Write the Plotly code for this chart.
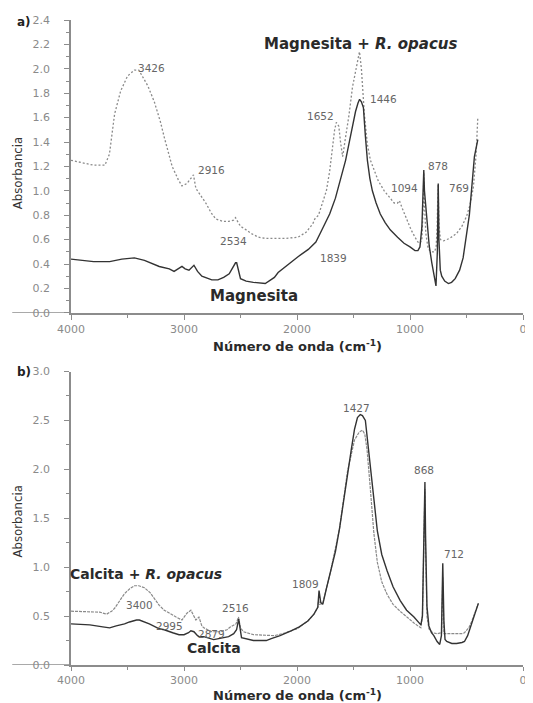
import plotly.graph_objects as go

# ---------------- Panel a: Magnesita ----------------
mag_op_wn = [4000, 3900, 3800, 3700, 3660, 3614, 3560, 3500, 3439, 3400, 3368, 3320, 3263, 3210, 3175,
             3105, 3050, 3018, 2974, 2930, 2916, 2895, 2850, 2807, 2760, 2719, 2660, 2605, 2560, 2544,
             2520, 2500, 2450, 2404, 2342, 2281, 2200, 2100, 1991, 1920, 1860, 1842, 1810, 1772, 1740,
             1711, 1680, 1667, 1652, 1630, 1615, 1596, 1570, 1540, 1509, 1480, 1460, 1447, 1430, 1404,
             1377, 1350, 1316, 1280, 1228, 1180, 1140, 1110, 1094, 1070, 1026, 990, 956, 930, 912,
             895, 882, 878, 872, 860, 840, 825, 800, 781, 768, 760, 752, 742, 730, 702,
             650, 588, 540, 500, 470, 439, 415, 400]
mag_op_abs = [1.25, 1.23, 1.21, 1.21, 1.30, 1.63, 1.82, 1.94, 1.99, 1.99, 1.94, 1.86, 1.73, 1.57, 1.44,
              1.20, 1.09, 1.04, 1.06, 1.12, 1.13, 1.02, 0.96, 0.90, 0.82, 0.77, 0.75, 0.75, 0.76, 0.78,
              0.74, 0.71, 0.68, 0.65, 0.62, 0.61, 0.61, 0.61, 0.62, 0.66, 0.73, 0.77, 0.80, 0.90, 1.00,
              1.16, 1.40, 1.50, 1.56, 1.53, 1.40, 1.28, 1.44, 1.62, 1.85, 1.97, 2.08, 2.14, 2.00, 1.63,
              1.38, 1.25, 1.16, 1.08, 1.00, 0.95, 0.90, 0.90, 0.92, 0.86, 0.76, 0.68, 0.62, 0.58, 0.57,
              0.60, 0.90, 1.15, 0.90, 0.65, 0.53, 0.51, 0.50, 0.50, 0.55, 0.70, 1.05, 0.70, 0.60, 0.59,
              0.61, 0.65, 0.71, 0.79, 0.88, 1.03, 1.30, 1.60]

mag_wn = [4000, 3900, 3800, 3658, 3550, 3439, 3350, 3219, 3130, 3088, 3050, 3018, 2990, 2956, 2912,
          2880, 2842, 2754, 2700, 2649, 2600, 2570, 2544, 2534, 2515, 2500, 2450, 2386, 2281, 2200,
          2167, 2100, 1991, 1900, 1845, 1833, 1790, 1711, 1660, 1614, 1570, 1535, 1500, 1482, 1460,
          1446, 1430, 1412, 1395, 1377, 1355, 1333, 1300, 1263, 1220, 1175, 1110, 1053, 1000, 956,
          930, 912, 895, 882, 878, 872, 851, 830, 807, 785, 770, 758, 750, 744, 732,
          719, 693, 660, 632, 600, 561, 530, 500, 475, 456, 430, 400]
mag_abs = [0.44, 0.43, 0.42, 0.42, 0.44, 0.45, 0.43, 0.38, 0.36, 0.34, 0.36, 0.38, 0.36, 0.35, 0.39,
           0.34, 0.30, 0.27, 0.27, 0.29, 0.32, 0.37, 0.41, 0.41, 0.34, 0.28, 0.26, 0.25, 0.24, 0.29,
           0.33, 0.38, 0.46, 0.52, 0.57, 0.58, 0.66, 0.81, 0.94, 1.09, 1.25, 1.41, 1.57, 1.65, 1.72,
           1.75, 1.73, 1.68, 1.45, 1.25, 1.10, 1.00, 0.90, 0.81, 0.74, 0.68, 0.62, 0.57, 0.54, 0.51,
           0.51, 0.54, 0.70, 1.00, 1.17, 1.00, 0.79, 0.55, 0.41, 0.30, 0.22, 0.50, 1.06, 0.60, 0.35,
           0.30, 0.26, 0.24, 0.25, 0.28, 0.35, 0.45, 0.62, 0.80, 1.00, 1.28, 1.42]

# ---------------- Panel b: Calcita ----------------
cal_op_wn = [4000, 3800, 3746, 3684, 3640, 3614, 3560, 3526, 3480, 3439, 3400, 3351, 3300, 3263, 3219,
             3175, 3120, 3070, 3018, 2990, 2974, 2939, 2910, 2895, 2868, 2842, 2825, 2754, 2693, 2675,
             2620, 2588, 2540, 2518, 2500, 2474, 2386, 2272, 2200, 2100, 2000, 1904, 1850, 1816, 1809,
             1800, 1772, 1702, 1623, 1553, 1491, 1450, 1420, 1400, 1380, 1351, 1320, 1289, 1250, 1202,
             1150, 1088, 1030, 965, 930, 904, 890, 875, 868, 862, 850, 833, 800, 760, 720,
             710, 705, 700, 650, 588, 540, 518, 480, 456, 420, 395]
cal_op_abs = [0.55, 0.54, 0.54, 0.52, 0.55, 0.58, 0.68, 0.73, 0.78, 0.81, 0.81, 0.79, 0.74, 0.68, 0.61,
              0.56, 0.52, 0.49, 0.46, 0.50, 0.53, 0.56, 0.50, 0.46, 0.49, 0.40, 0.38, 0.34, 0.34, 0.34,
              0.36, 0.39, 0.42, 0.49, 0.38, 0.34, 0.31, 0.30, 0.30, 0.33, 0.37, 0.45, 0.52, 0.59, 0.66,
              0.62, 0.63, 0.96, 1.40, 1.98, 2.30, 2.38, 2.40, 2.36, 2.20, 1.80, 1.35, 1.05, 0.85, 0.72,
              0.62, 0.55, 0.49, 0.43, 0.40, 0.38, 0.50, 1.30, 1.80, 1.20, 0.50, 0.37, 0.33, 0.32, 0.33,
              0.90, 0.50, 0.32, 0.32, 0.32, 0.32, 0.33, 0.38, 0.44, 0.55, 0.63]

cal_wn = [4000, 3833, 3719, 3658, 3600, 3526, 3482, 3420, 3395, 3307, 3219, 3175, 3100, 3044, 3000,
          2960, 2939, 2912, 2880, 2868, 2825, 2737, 2693, 2605, 2560, 2535, 2516, 2500, 2491, 2386,
          2272, 2228, 2150, 2053, 1980, 1904, 1850, 1816, 1805, 1790, 1772, 1740, 1702, 1660, 1623,
          1590, 1553, 1520, 1491, 1465, 1440, 1421, 1395, 1375, 1351, 1320, 1289, 1250, 1202, 1150,
          1088, 1030, 965, 930, 904, 890, 875, 868, 862, 850, 833, 810, 789, 760, 737,
          722, 710, 700, 690, 675, 630, 588, 540, 518, 490, 456, 420, 395]
cal_abs = [0.42, 0.41, 0.39, 0.38, 0.40, 0.42, 0.44, 0.46, 0.46, 0.42, 0.37, 0.36, 0.33, 0.31, 0.31,
           0.33, 0.35, 0.34, 0.30, 0.29, 0.29, 0.26, 0.27, 0.29, 0.32, 0.36, 0.47, 0.32, 0.28, 0.25,
           0.25, 0.27, 0.30, 0.35, 0.39, 0.45, 0.52, 0.59, 0.76, 0.64, 0.62, 0.78, 0.96, 1.16, 1.40,
           1.66, 1.98, 2.20, 2.41, 2.53, 2.56, 2.55, 2.50, 2.30, 2.04, 1.70, 1.37, 1.13, 0.96, 0.80,
           0.66, 0.56, 0.49, 0.44, 0.41, 0.50, 1.40, 1.87, 1.30, 0.60, 0.40, 0.33, 0.30, 0.24, 0.21,
           0.30, 1.04, 0.45, 0.26, 0.24, 0.22, 0.22, 0.23, 0.24, 0.30, 0.42, 0.54, 0.63]

# Peak labels: (text, wavenumber, absorbance)
peaks_a = [("3426", 3289, 2.01), ("2916", 2754, 1.17), ("2534", 2561, 0.59), ("1652", 1789, 1.61),
           ("1446", 1237, 1.75), ("1094", 1053, 1.02), ("878", 754, 1.20), ("769", 570, 1.02),
           ("1839", 1675, 0.45)]
peaks_b = [("1427", 1474, 2.63), ("868", 877, 1.99), ("712", 614, 1.13), ("1809", 1921, 0.83),
           ("2516", 2544, 0.58), ("3400", 3395, 0.61), ("2995", 3132, 0.40), ("2879", 2754, 0.32)]

x_ticks = [4000, 3000, 2000, 1000, 0]
ya_ticks = [0.0, 0.2, 0.4, 0.6, 0.8, 1.0, 1.2, 1.4, 1.6, 1.8, 2.0, 2.2, 2.4]
yb_ticks = [0.0, 0.5, 1.0, 1.5, 2.0, 2.5, 3.0]

DARK = "#333333"
LIGHT = "#8a8a8a"
AXC = "#8c8c8c"
TICKF = dict(family="DejaVu Sans, sans-serif", size=11, color="#8a8a8a")
BOLDF = "DejaVu Sans, sans-serif"
PEAKF = dict(family="DejaVu Sans, sans-serif", size=10.5, color="#666666")

fig = go.Figure()
fig.add_trace(go.Scatter(x=mag_op_wn, y=mag_op_abs, mode="lines", xaxis="x", yaxis="y",
                         line=dict(color=LIGHT, width=1.3, dash="2px,2px"), showlegend=False))
fig.add_trace(go.Scatter(x=mag_wn, y=mag_abs, mode="lines", xaxis="x", yaxis="y",
                         line=dict(color=DARK, width=1.4), showlegend=False))
fig.add_trace(go.Scatter(x=cal_op_wn, y=cal_op_abs, mode="lines", xaxis="x2", yaxis="y2",
                         line=dict(color=LIGHT, width=1.2, dash="3px,1px"), showlegend=False))
fig.add_trace(go.Scatter(x=cal_wn, y=cal_abs, mode="lines", xaxis="x2", yaxis="y2",
                         line=dict(color=DARK, width=1.4), showlegend=False))

xax = dict(range=[4000, 0], tickvals=x_ticks, ticks="outside", ticklen=5, tickcolor=AXC,
           showline=True, linecolor=AXC, linewidth=1.5, showgrid=False, zeroline=False,
           tickfont=TICKF, minor=dict(dtick=500, ticks="outside", ticklen=3, tickcolor=AXC))
yax = dict(ticks="outside", ticklen=5, tickcolor=AXC, showline=True, linecolor=AXC, linewidth=1.5,
           showgrid=False, zeroline=False, tickfont=TICKF, ticklabelstandoff=12)

# page has an 8px body margin, so the figure is 8px smaller than the window
fig.update_layout(
    width=525, height=695, margin=dict(l=63, r=6, t=7, b=38),
    paper_bgcolor="white", plot_bgcolor="white",
    xaxis=dict(xax, domain=[0, 1], anchor="y"),
    yaxis=dict(yax, domain=[0.546, 1.0], range=[0, 2.4], tickvals=ya_ticks,
               ticktext=[f"{v:.1f}" for v in ya_ticks], anchor="x",
               minor=dict(dtick=0.1, ticks="outside", ticklen=3, tickcolor=AXC)),
    xaxis2=dict(xax, domain=[0, 1], anchor="y2", ticklen=4),
    yaxis2=dict(yax, domain=[0.0, 0.455], range=[0, 3.0], tickvals=yb_ticks,
                ticktext=[f"{v:.1f}" for v in yb_ticks], anchor="x2",
                minor=dict(dtick=0.25, ticks="outside", ticklen=3, tickcolor=AXC)),
)

# x-axis line extension to the left of the y axis
for yref in ("y", "y2"):
    fig.add_shape(type="line", xref="paper", yref=yref, x0=-0.13, x1=0, y0=0, y1=0,
                  line=dict(color=AXC, width=1.5), layer="above")

ann = []
for txt, xv, yv in peaks_a:
    ann.append(dict(text=txt, x=xv, y=yv, xref="x", yref="y", showarrow=False, font=PEAKF))
for txt, xv, yv in peaks_b:
    ann.append(dict(text=txt, x=xv, y=yv, xref="x2", yref="y2", showarrow=False, font=PEAKF))

lab = dict(family=BOLDF, size=15, color="#2a2a2a")
AX_T = dict(family="DejaVu Sans Condensed, DejaVu Sans, sans-serif", size=13, color="#333")
ann += [
    dict(text="<b>Magnesita + <i>R. opacus</i></b>", x=1430, y=2.2, xref="x", yref="y",
         showarrow=False, font=lab),
    dict(text="<b>Magnesita</b>", x=2377, y=0.14, xref="x", yref="y", showarrow=False, font=lab),
    dict(text="<b>Calcita + <i>R. opacus</i></b>", x=3333, y=0.93, xref="x2", yref="y2",
         showarrow=False, font=dict(lab, size=14)),
    dict(text="<b>Calcita</b>", x=2737, y=0.17, xref="x2", yref="y2", showarrow=False,
         font=dict(lab, size=14)),
    dict(text="<b>a)</b>", x=-0.125, y=0.997, xref="paper", yref="paper", showarrow=False,
         yanchor="middle", font=dict(family=BOLDF, size=12, color="#222")),
    dict(text="<b>b)</b>", x=-0.125, y=0.455, xref="paper", yref="paper", showarrow=False,
         yanchor="middle", font=dict(family=BOLDF, size=12, color="#222")),
    dict(text="Absorbancia", x=-0.118, y=0.762, xref="paper", yref="paper", showarrow=False,
         textangle=-90, yanchor="middle", xanchor="center", font=AX_T),
    dict(text="Absorbancia", x=-0.118, y=0.222, xref="paper", yref="paper", showarrow=False,
         textangle=-90, yanchor="middle", xanchor="center", font=AX_T),
    dict(text="<b>Número de onda (cm<sup>-1</sup>)</b>", x=0.5, y=0.495, xref="paper", yref="paper",
         showarrow=False, yanchor="middle", font=dict(family=BOLDF, size=13, color="#2a2a2a")),
    dict(text="<b>Número de onda (cm<sup>-1</sup>)</b>", x=0.5, y=-0.047, xref="paper", yref="paper",
         showarrow=False, yanchor="middle", font=dict(family=BOLDF, size=13, color="#2a2a2a")),
]
fig.update_layout(annotations=ann)

fig.write_html("out.html")
